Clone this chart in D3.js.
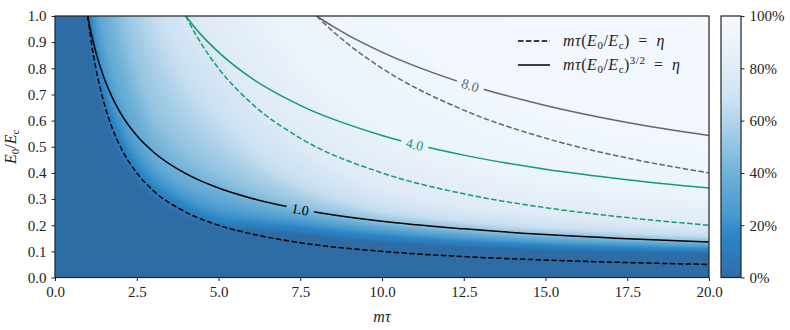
<!DOCTYPE html>
<html>
<head>
<meta charset="utf-8">
<script src="https://cdn.jsdelivr.net/npm/d3@7"></script>
<style>
  body { margin: 0; background: #fff; }
  svg { display: block; }
</style>
</head>
<body>
<svg id="chart" width="790" height="330" font-family="Liberation Serif"></svg>
<script>
// shaded map: height E0/Ec where each percent level is reached, per m tau column
var mtCols = [0.5, 1, 1.5, 2, 3, 4, 5, 7.5, 10, 12.5, 15, 20]
var pctLevels = [0, 10, 20, 35, 50, 65, 80, 90, 95, 98]
var lvl0 = [1.8, 0.92, 0.6, 0.45, 0.3, 0.225, 0.185, 0.16, 0.13, 0.112, 0.1, 0.085]
var lvl10 = [2.0, 1.02, 0.67, 0.5, 0.33, 0.255, 0.205, 0.178, 0.145, 0.125, 0.112, 0.097]
var lvl20 = [2.3, 1.15, 0.75, 0.56, 0.37, 0.29, 0.235, 0.2, 0.165, 0.142, 0.127, 0.11]
var lvl35 = [2.8, 1.4, 0.93, 0.7, 0.45, 0.35, 0.3, 0.235, 0.19, 0.163, 0.145, 0.125]
var lvl50 = [4.2, 2.1, 1.4, 1.05, 0.63, 0.49, 0.4, 0.275, 0.215, 0.185, 0.163, 0.138]
var lvl65 = [6.6, 3.3, 2.2, 1.6, 1.0, 0.73, 0.58, 0.35, 0.25, 0.21, 0.185, 0.155]
var lvl80 = [10, 5.2, 3.5, 2.6, 1.6, 1.15, 0.9, 0.52, 0.34, 0.27, 0.235, 0.2]
var lvl90 = [16, 8, 5.5, 4, 2.5, 1.9, 1.5, 0.85, 0.58, 0.45, 0.37, 0.3]
var lvl95 = [26, 13, 8.5, 6, 4, 3, 2.4, 1.5, 1.0, 0.75, 0.6, 0.48]
var lvl98 = [40, 20, 13, 9, 6, 4.8, 3.8, 2.5, 1.9, 1.6, 1.3, 1.0]

// contour lines
var mtEta1 = [1, 1.1, 1.25, 1.5, 1.75, 2, 2.5, 3, 4, 5, 6, 7.5, 10, 12.5, 15, 17.5, 20]
var dashEta1 = [1, 0.909, 0.8, 0.667, 0.571, 0.5, 0.4, 0.333, 0.25, 0.2, 0.167, 0.133, 0.1, 0.08, 0.0667, 0.0571, 0.05]
var solidEta1 = [1, 0.938, 0.862, 0.763, 0.689, 0.63, 0.543, 0.481, 0.397, 0.342, 0.303, 0.261, 0.215, 0.186, 0.164, 0.148, 0.136]
var mtEta4 = [4, 4.25, 4.5, 5, 6, 7.5, 10, 12.5, 15, 17.5, 20]
var dashEta4 = [1, 0.941, 0.889, 0.8, 0.667, 0.533, 0.4, 0.32, 0.267, 0.229, 0.2]
var solidEta4 = [1, 0.960, 0.924, 0.862, 0.763, 0.658, 0.543, 0.468, 0.414, 0.374, 0.342]
var mtEta8 = [8, 8.5, 9, 10, 12.5, 15, 17.5, 20]
var dashEta8 = [1, 0.941, 0.889, 0.8, 0.64, 0.533, 0.457, 0.4]
var solidEta8 = [1, 0.960, 0.924, 0.862, 0.743, 0.658, 0.593, 0.543]
var labelText = ['1.0', '4.0', '8.0']
var labelAt = [7.5, 11, 12.7]

// axis ticks
var xTicks = [0, 2.5, 5, 7.5, 10, 12.5, 15, 17.5, 20]
var yTicks = [0, 0.1, 0.2, 0.3, 0.4, 0.5, 0.6, 0.7, 0.8, 0.9, 1.0]
var cbTicks = [0, 20, 40, 60, 80, 100]

// colour map
var cmapPct = [0, 8, 16, 25, 38, 48, 60, 68, 78, 88, 100]
var cmapColors = ['#2e6ca5', '#2c79b8', '#2b87c5', '#4a9bd0', '#6aaed6', '#8cc0e0',
  '#b3d4ea', '#cde2f2', '#dde9f6', '#e9f2fa', '#f6faff']

var FONT = 'Liberation Serif'
var margin = {top: 16, left: 55}
var width = 654
var height = 261.5
var cbLeft = 721
var cbWidth = 20

var svg = d3.select('#chart')
var g = svg.append('g')
    .attr('transform', 'translate(' + margin.left + ',' + margin.top + ')')

var x = d3.scaleLinear().domain([0, 20]).range([0, width])
var y = d3.scaleLinear().domain([0, 1]).range([height, 0])
var cmap = d3.scaleLinear().domain(cmapPct).range(cmapColors).clamp(true)

// build the shaded map pixel by pixel
var isoY = [lvl0, lvl10, lvl20, lvl35, lvl50, lvl65, lvl80, lvl90, lvl95, lvl98]
var logCols = mtCols.map(Math.log)
var isoScales = isoY.map(function (ys) {
  return d3.scaleLinear().domain(logCols).range(ys.map(Math.log)).clamp(true)
})
var lut = d3.range(0, 1001).map(function (i) { return d3.rgb(cmap(i / 10)) })

function pctAt (hs, e) {
  if (e <= hs[0]) return pctLevels[0]
  for (var i = 0; i < hs.length - 1; i++) {
    if (e < hs[i + 1]) {
      return pctLevels[i] + (pctLevels[i + 1] - pctLevels[i]) * (e - hs[i]) / (hs[i + 1] - hs[i])
    }
  }
  return pctLevels[pctLevels.length - 1]
}

var W = Math.round(width)
var H = Math.round(height)
var canvas = document.createElement('canvas')
canvas.width = W
canvas.height = H
var ctx = canvas.getContext('2d')
var img = ctx.createImageData(W, H)
for (var px = 0; px < W; px++) {
  var mt = Math.max(x.invert(px + 0.5), mtCols[0])
  var hs = isoScales.map(function (s) { return Math.exp(s(Math.log(mt))) })
  for (var k = 1; k < hs.length; k++) hs[k] = Math.max(hs[k], hs[k - 1] + 1e-6)
  for (var py = 0; py < H; py++) {
    var e = y.invert(py + 0.5)
    var c = lut[Math.round(pctAt(hs, e) * 10)]
    var idx = (py * W + px) * 4
    img.data[idx] = c.r
    img.data[idx + 1] = c.g
    img.data[idx + 2] = c.b
    img.data[idx + 3] = 255
  }
}
ctx.putImageData(img, 0, 0)
g.append('image')
    .attr('width', width)
    .attr('height', height)
    .attr('preserveAspectRatio', 'none')
    .attr('href', canvas.toDataURL())

// contour lines
var line = d3.line()
    .x(function (d) { return x(d[0]) })
    .y(function (d) { return y(d[1]) })
    .curve(d3.curveMonotoneX)

var curves = [
  {mt: mtEta1, e: dashEta1, color: '#000', dash: true},
  {mt: mtEta1, e: solidEta1, color: '#000', label: 0},
  {mt: mtEta4, e: dashEta4, color: '#109e70', dash: true},
  {mt: mtEta4, e: solidEta4, color: '#109e70', label: 1},
  {mt: mtEta8, e: dashEta8, color: '#666', dash: true},
  {mt: mtEta8, e: solidEta8, color: '#666', label: 2}
]

var defs = svg.append('defs')
var mask = defs.append('mask').attr('id', 'label-gaps')
    .attr('maskUnits', 'userSpaceOnUse')
    .attr('x', -60).attr('y', -20).attr('width', 800).attr('height', 330)
mask.append('rect').attr('x', -60).attr('y', -20)
    .attr('width', 800).attr('height', 330).attr('fill', '#fff')

var lines = g.append('g').attr('mask', 'url(#label-gaps)')
var labelsG = g.append('g')

curves.forEach(function (cv) {
  var pts = cv.mt.map(function (m, i) { return [m, cv.e[i]] })
  var path = lines.append('path')
      .attr('d', line(pts))
      .attr('fill', 'none')
      .attr('stroke', cv.color)
      .attr('stroke-width', 1.5)
      .attr('stroke-dasharray', cv.dash ? '5.5,2.4' : null)
  if (cv.label === undefined) return
  // find the point on the path at the label position
  var node = path.node()
  var total = node.getTotalLength()
  var target = x(labelAt[cv.label])
  var lo = 0
  var hi = total
  for (var it = 0; it < 40; it++) {
    var mid = (lo + hi) / 2
    if (node.getPointAtLength(mid).x < target) lo = mid; else hi = mid
  }
  var p = node.getPointAtLength(lo)
  var p1 = node.getPointAtLength(Math.max(0, lo - 4))
  var p2 = node.getPointAtLength(Math.min(total, lo + 4))
  var ang = Math.atan2(p2.y - p1.y, p2.x - p1.x) * 180 / Math.PI
  mask.append('rect')
      .attr('x', -14).attr('y', -7).attr('width', 28).attr('height', 14)
      .attr('fill', '#000')
      .attr('transform', 'translate(' + p.x + ',' + p.y + ') rotate(' + ang + ')')
  labelsG.append('text')
      .attr('transform', 'translate(' + p.x + ',' + p.y + ') rotate(' + ang + ')')
      .attr('text-anchor', 'middle')
      .attr('dy', '0.35em')
      .attr('font-family', FONT)
      .attr('font-size', 14)
      .attr('fill', cv.color)
      .text(labelText[cv.label])
})

// axes
var xAxis = g.append('g')
    .attr('transform', 'translate(0,' + height + ')')
    .call(d3.axisBottom(x).tickValues(xTicks).tickFormat(d3.format('.1f'))
      .tickSize(3.5).tickSizeOuter(0).tickPadding(5))
var yAxis = g.append('g')
    .call(d3.axisLeft(y).tickValues(yTicks).tickFormat(d3.format('.1f'))
      .tickSize(3.5).tickSizeOuter(0).tickPadding(5))
;[xAxis, yAxis].forEach(function (a) {
  a.attr('font-family', FONT)
  a.select('.domain').remove()
  a.selectAll('line').attr('stroke', '#222').attr('stroke-width', 1)
  a.selectAll('text').attr('font-size', 15).attr('fill', '#222')
})

g.append('rect')
    .attr('width', width).attr('height', height)
    .attr('fill', 'none').attr('stroke', '#222').attr('stroke-width', 1.2)

// axis titles
svg.append('text')
    .attr('x', margin.left + width / 2).attr('y', 322)
    .attr('text-anchor', 'middle').attr('font-size', 16)
    .attr('font-family', FONT)
    .attr('font-style', 'italic').attr('fill', '#222')
    .text('mτ')

var yl = svg.append('text')
    .attr('transform', 'translate(16,' + (margin.top + height / 2) + ') rotate(-90)')
    .attr('text-anchor', 'middle').attr('font-size', 16).attr('fill', '#222')
    .attr('font-family', FONT)
yl.append('tspan').attr('font-style', 'italic').text('E')
yl.append('tspan').attr('font-size', 11).attr('dy', 3).text('0')
yl.append('tspan').attr('dy', -3).text('/')
yl.append('tspan').attr('font-style', 'italic').text('E')
yl.append('tspan').attr('font-size', 11).attr('dy', 3).text('c')

// legend
function mathLabel (sel, power) {
  sel.append('tspan').attr('font-style', 'italic').text('mτ')
  sel.append('tspan').text('(')
  sel.append('tspan').attr('font-style', 'italic').text('E')
  sel.append('tspan').attr('font-size', 11).attr('dy', 3).text('0')
  sel.append('tspan').attr('dy', -3).text('/')
  sel.append('tspan').attr('font-style', 'italic').text('E')
  sel.append('tspan').attr('font-size', 11).attr('dy', 3).text('c')
  sel.append('tspan').attr('dy', -3).text(')')
  if (power) {
    sel.append('tspan').attr('font-size', 11).attr('dy', -6).text(power)
    sel.append('tspan').attr('dy', 6).text('\u2002=\u2002')
  } else {
    sel.append('tspan').text('\u2002=\u2002')
  }
  sel.append('tspan').attr('font-style', 'italic').text('η')
}

var legend = svg.append('g').attr('font-family', FONT)
legend.append('line')
    .attr('x1', 518).attr('x2', 550).attr('y1', 41).attr('y2', 41)
    .attr('stroke', '#000').attr('stroke-width', 1.5).attr('stroke-dasharray', '5.5,2.4')
legend.append('line')
    .attr('x1', 518).attr('x2', 550).attr('y1', 65).attr('y2', 65)
    .attr('stroke', '#000').attr('stroke-width', 1.5)
mathLabel(legend.append('text').attr('x', 563).attr('y', 46)
    .attr('font-size', 16).attr('letter-spacing', 0.5).attr('fill', '#222'))
mathLabel(legend.append('text').attr('x', 563).attr('y', 70)
    .attr('font-size', 16).attr('letter-spacing', 0.5).attr('fill', '#222'), '3/2')

// colour bar
var grad = defs.append('linearGradient').attr('id', 'cbar')
    .attr('x1', 0).attr('y1', 1).attr('x2', 0).attr('y2', 0)
d3.range(0, 101, 2).forEach(function (v) {
  grad.append('stop').attr('offset', v + '%').attr('stop-color', cmap(v))
})
var cb = svg.append('g').attr('transform', 'translate(' + cbLeft + ',' + margin.top + ')')
var cy = d3.scaleLinear().domain([0, 100]).range([height, 0])
cb.append('rect').attr('width', cbWidth).attr('height', height).attr('fill', 'url(#cbar)')
var cbAxis = cb.append('g')
    .attr('transform', 'translate(' + cbWidth + ',0)')
    .call(d3.axisRight(cy).tickValues(cbTicks).tickFormat(function (d) { return d + '%' })
      .tickSize(3.5).tickSizeOuter(0).tickPadding(5))
cbAxis.attr('font-family', FONT)
cbAxis.select('.domain').remove()
cbAxis.selectAll('line').attr('stroke', '#222')
cbAxis.selectAll('text').attr('font-size', 15).attr('fill', '#222')
cb.append('rect').attr('width', cbWidth).attr('height', height)
    .attr('fill', 'none').attr('stroke', '#222').attr('stroke-width', 1.2)
</script>
</body>
</html>
